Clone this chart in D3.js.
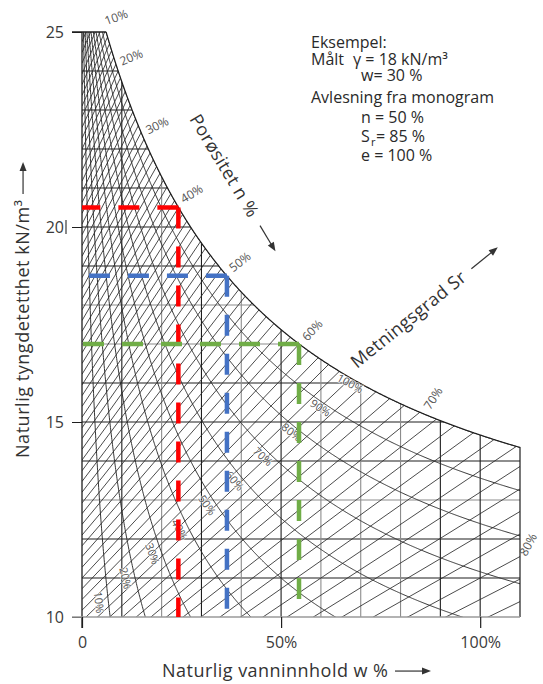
<!DOCTYPE html>
<html><head><meta charset="utf-8">
<script src="https://cdn.jsdelivr.net/npm/d3@7"></script>
<style>
body{margin:0;background:#fff;}
svg{display:block;font-family:"Open Sans","Noto Sans",sans-serif;}
</style></head><body>
<svg id="c" width="543" height="684"></svg>
<script>
// ---------------- data ----------------
const gammaGrid = [10,11,12,13,14,15,16,17,18,19,20,21,22,23,24,25];
const wGrid = [10,20,30,40,50,60,70,80,90,100,110];
const porosityLevels = [10,11,12,13,14,15,16,17,18,19,20,21,22,23,24,25,26,27,28,29,30,31,32,33,34,35,36,37,38,39,40,41,42,43,44,45,46,47,48,49,50,51,52,53,54,55,56,57,58,59,60,61,62,63,64,65,66,67,68,69,70,71,72,73,74,75,76,77,78,79,80,81,82];
const porosityLabels = [10,20,30,40,50,60,70,80];
const saturationLevels = [10,20,30,40,50,60,70,80,90,100];
const yTicks = [10,15,20,25];
const yTickLabels = ["10","15","20","25"];
const xTicks = [0,50,100];
const xTickLabels = ["0","50%","100%"];
const exampleW = [24.2, 36.4, 54.5];
const exampleGamma = [20.5, 18.75, 17.0];
const exampleColors = ["#ff0000","#4472c4","#70ad47"];
const exampleLines = ["Eksempel:", "Målt", "γ = 18 kN/m³", "w= 30 %", "Avlesning fra monogram", "n = 50 %", "= 85 %", "e = 100 %"];
const solidUnitWeight = 27.5;   // kN/m3
const waterUnitWeight = 10;     // kN/m3
const wMax = 110;

// ---------------- helpers ----------------
const svg = d3.select("#c");
const x = d3.scaleLinear().domain([0, wMax]).range([82, 520]);
const y = d3.scaleLinear().domain([10, 25]).range([617, 32]);
const gs = solidUnitWeight, Gs = solidUnitWeight / waterUnitWeight;
const gSat = w => gs * (1 + w) / (1 + Gs * w);
const gSr = (w, s) => gs * (1 + w) * s / (s + Gs * w);
const gN = (w, n) => gs * (1 - n) * (1 + w);
const line = d3.line().x(d => x(d[0] * 100)).y(d => y(d[1]));
const wTop = (gs - 25) / (25 * Gs - gs);
const W = wMax / 100;
const samples = d3.range(0, 1.0001, 1 / 800).map(t => t * t * W);

// clip region
const boundary = samples.filter(w => w >= wTop).map(w => [w, gSat(w)]);
boundary.unshift([wTop, 25]);
const poly = [[0, 10], [0, 25]].concat(boundary).concat([[W, gSat(W)], [W, 10]]);
svg.append("defs").append("clipPath").attr("id", "area")
  .append("path").attr("d", line(poly) + "Z");

const grid = svg.append("g").attr("clip-path", "url(#area)").attr("fill", "none");
const lightH = [13, 17, 18];
const lightV = [20, 40, 60, 70, 80];

grid.selectAll(".h").data(gammaGrid.filter(g => g > 10 && g < 25)).join("line")
  .attr("x1", x(0)).attr("x2", x(wMax)).attr("y1", d => y(d)).attr("y2", d => y(d))
  .attr("stroke", d => lightH.includes(d) ? "#8c8c8c" : "#1e1e1e").attr("stroke-width", 1.1);
grid.selectAll(".v").data(wGrid.filter(w => w < wMax)).join("line")
  .attr("y1", y(10)).attr("y2", y(25)).attr("x1", d => x(d)).attr("x2", d => x(d))
  .attr("stroke", d => lightV.includes(d) ? "#8c8c8c" : "#1e1e1e").attr("stroke-width", 1.1);
grid.selectAll(".n").data(porosityLevels).join("path")
  .attr("d", d => line([[0, gN(0, d / 100)], [W, gN(W, d / 100)]]))
  .attr("stroke", "#2a2a2a").attr("stroke-width", 0.85);
grid.selectAll(".s").data(saturationLevels).join("path")
  .attr("d", d => line(samples.map(w => [w, gSr(w, d / 100)])))
  .attr("stroke", "#2a2a2a").attr("stroke-width", 0.95);

svg.append("path").attr("d", line(boundary.concat([[W, 10]])))
  .attr("fill", "none").attr("stroke", "#1e1e1e").attr("stroke-width", 1.2);

// axes
const yAxis = d3.axisLeft(y).tickValues(yTicks).tickSize(10).tickPadding(8)
  .tickFormat((d, i) => yTickLabels[i]);
const ya = svg.append("g").attr("transform", `translate(${x(0)},0)`).call(yAxis);
ya.select(".domain").remove();
ya.selectAll("line").attr("stroke", "#1e1e1e");
ya.selectAll("text").attr("font-size", 16).attr("fill", "#3a3a3a").attr("font-family", "Open Sans");
svg.append("line").attr("x1", x(0)).attr("x2", x(0)).attr("y1", y(25)).attr("y2", y(10) + 11)
  .attr("stroke", "#1e1e1e").attr("stroke-width", 1.3);
svg.append("line").attr("x1", x(0) - 10).attr("x2", x(wTop * 100)).attr("y1", y(25)).attr("y2", y(25))
  .attr("stroke", "#1e1e1e").attr("stroke-width", 1.3);
svg.append("line").attr("x1", 66).attr("x2", 66).attr("y1", y(20) - 7).attr("y2", y(20) + 7)
  .attr("stroke", "#3a3a3a").attr("stroke-width", 1.2);
svg.append("line").attr("x1", x(0) - 10).attr("x2", x(wMax)).attr("y1", y(10)).attr("y2", y(10))
  .attr("stroke", "#9a9a9a").attr("stroke-width", 1.3);

const xAxis = d3.axisBottom(x).tickValues(xTicks).tickSize(11).tickPadding(9)
  .tickFormat((d, i) => xTickLabels[i]);
const xa = svg.append("g").attr("transform", `translate(0,${y(10)})`).call(xAxis);
xa.select(".domain").remove();
xa.selectAll("line").attr("stroke", "#1e1e1e").attr("stroke-width", 1.2);
xa.selectAll("text").attr("font-size", 16).attr("fill", "#3a3a3a").attr("font-family", "Open Sans");

// labels on the families
function tangentAngle(f, w) {
  const h = 0.002;
  const dx = x((w + h) * 100) - x((w - h) * 100), dy = y(f(w + h)) - y(f(w - h));
  return Math.atan2(dy, dx) * 180 / Math.PI;
}
porosityLabels.forEach(p => {
  const n = p / 100;
  let wb = n / (Gs * (1 - n)), gb = gN(wb, n);
  let edge = false;
  if (wb > W) { wb = W; gb = gN(W, n); edge = true; }
  const th = tangentAngle(gSat, Math.min(wb, W - 0.003));
  const ang = -(90 - th) * 0.7 - 10;
  let px = x(wb * 100) + (edge ? 8 : 13), py = y(gb) - (edge ? 12 : 14);
  if (py < 17) { py = 17; px += 5; }
  svg.append("text").attr("transform", `translate(${px},${py}) rotate(${ang})`)
    .attr("text-anchor", "middle").attr("dominant-baseline", "central")
    .attr("font-size", 12).attr("fill", "#555").text(p + "%");
});
saturationLevels.forEach(p => {
  const s = p / 100;
  const g = 9.75 + 0.0625 * p;
  const w = s * (gs - g) / (g * Gs - gs * s);
  const th = tangentAngle(wv => gSr(wv, s), w);
  svg.append("text").attr("transform", `translate(${x(w * 100) - 9},${y(g)}) rotate(${th})`)
    .attr("text-anchor", "middle").attr("dominant-baseline", "central")
    .attr("font-size", 11).attr("fill", "#555")
    .attr("stroke", "#fff").attr("stroke-width", 2).attr("stroke-opacity", 0.6).attr("paint-order", "stroke")
    .text(p + "%");
});

// example dashed readings
exampleW.forEach((w, i) => {
  const cx = x(w), cy = y(exampleGamma[i]);
  const st = s => s.attr("fill", "none").attr("stroke", exampleColors[i]).attr("stroke-width", 4.5)
    .attr("stroke-dasharray", "21,18");
  svg.append("path").attr("d", `M${cx},${cy}L${x(0)},${cy}`).call(st);
  svg.append("path").attr("d", `M${cx},${cy}L${cx},${y(10)}`).call(st);
});

// titles with arrows
function arrow(g, x0, y0, len) {
  g.append("line").attr("x1", x0).attr("x2", x0 + len - 6).attr("y1", y0).attr("y2", y0)
    .attr("stroke", "#333").attr("stroke-width", 1.2);
  g.append("path").attr("d", `M${x0 + len},${y0}L${x0 + len - 9},${y0 - 3.5}L${x0 + len - 9},${y0 + 3.5}Z`)
    .attr("fill", "#333");
}
function title(tx, ty, rot, txt, size, width, gap, len) {
  const g = svg.append("g").attr("transform", `translate(${tx},${ty}) rotate(${rot})`);
  g.append("text").attr("font-size", size).attr("fill", "#333")
    .attr("textLength", width).attr("lengthAdjust", "spacing").text(txt);
  arrow(g, width + gap, -size * 0.33, len);
}
title(162, 677, 0, "Naturlig vanninnhold w %", 18, 226, 7, 36);
title(29, 458, -90, "Naturlig tyngdetetthet kN/m³", 18, 258, 6, 32);
title(189, 119, 59, "Porøsitet n %", 18, 116, 12, 30);
title(357, 369, -39, "Metningsgrad Sr", 18, 142, 10, 34);

// example text
const ex = svg.append("g").attr("font-size", 16).attr("fill", "#2a2a2a");
ex.append("text").attr("x", 311).attr("y", 48).text(exampleLines[0]);
ex.append("text").attr("x", 311).attr("y", 65).text(exampleLines[1]);
ex.append("text").attr("x", 353).attr("y", 65).text(exampleLines[2]);
ex.append("text").attr("x", 361).attr("y", 81).text(exampleLines[3]);
ex.append("text").attr("x", 311).attr("y", 103).text(exampleLines[4]);
ex.append("text").attr("x", 361).attr("y", 123).text(exampleLines[5]);
ex.append("text").attr("x", 361).attr("y", 142).text("S");
ex.append("text").attr("x", 371).attr("y", 146).attr("font-size", 11).text("r");
ex.append("text").attr("x", 376).attr("y", 142).text(exampleLines[6]);
ex.append("text").attr("x", 361).attr("y", 161).text(exampleLines[7]);
</script>
</body></html>
